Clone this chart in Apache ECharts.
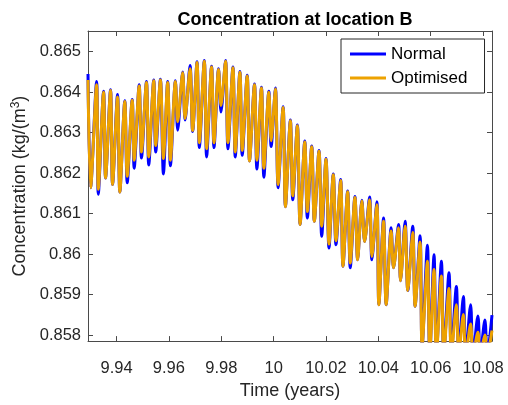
<!DOCTYPE html>
<html>
<head>
<meta charset="utf-8">
<script src="https://cdn.jsdelivr.net/npm/echarts@6/dist/echarts.min.js"></script>
<style>html,body{margin:0;padding:0;background:#fff}#c{width:508px;height:405px}</style>
</head>
<body>
<div id="c"></div>
<script>
// Times (years) of each daily maximum and minimum
const peakTime = [9.9291, 9.93238, 9.93505, 9.93771, 9.94038, 9.94316, 9.94598, 9.94865, 9.95143, 9.95421,
  9.95676, 9.95954, 9.96248, 9.96526, 9.96808, 9.97074, 9.97352, 9.9763, 9.97897, 9.98164,
  9.98446, 9.98712, 9.9899, 9.99269, 9.99535, 9.99817, 10.00069, 10.00362, 10.0064, 10.00907,
  10.01189, 10.01455, 10.01733, 10.02, 10.02278, 10.0256, 10.02827, 10.03105, 10.0337, 10.03665,
  10.03943, 10.04198, 10.04488, 10.0477, 10.05021, 10.05314, 10.05592, 10.05874, 10.06126, 10.06408,
  10.06697, 10.06979, 10.07246, 10.07524, 10.07802, 10.08069, 10.0834];
const troughTime = [9.9301, 9.93303, 9.93581, 9.93848, 9.94126, 9.94408, 9.94674, 9.94952, 9.9523, 9.95497,
  9.9579, 9.96057, 9.96335, 9.96617, 9.96907, 9.97162, 9.9744, 9.97722, 9.97989, 9.98255,
  9.98533, 9.988, 9.99078, 9.9936, 9.99627, 9.99905, 10.00171, 10.0045, 10.00731, 10.0101,
  10.01288, 10.01554, 10.01836, 10.02114, 10.02381, 10.02648, 10.02926, 10.03208, 10.03474, 10.03752,
  10.04019, 10.04297, 10.04579, 10.04846, 10.05124, 10.05402, 10.05669, 10.05962, 10.06214, 10.06495,
  10.06785, 10.07067, 10.07333, 10.07611, 10.07889, 10.08156];

// Normal run: concentration (kg/m^3) at maxima and minima
const normalPeak = [0.86445, 0.86426, 0.86402, 0.86406, 0.86394, 0.86379, 0.86382, 0.86418, 0.86426, 0.8643,
  0.86432, 0.86426, 0.86428, 0.8645, 0.86466, 0.86475, 0.86478, 0.86464, 0.86458, 0.86478,
  0.86462, 0.86451, 0.86442, 0.8642, 0.86412, 0.86402, 0.8641, 0.86364, 0.86331, 0.86319,
  0.86279, 0.86267, 0.86256, 0.86236, 0.86198, 0.86184, 0.86156, 0.86142, 0.86133, 0.86141,
  0.86129, 0.86089, 0.86065, 0.86073, 0.86081, 0.86069, 0.86045, 0.86022, 0.85998, 0.85982,
  0.85954, 0.8592, 0.85895, 0.85875, 0.85847, 0.85837, 0.85849];
const normalTrough = [0.86164, 0.86148, 0.86188, 0.86172, 0.86153, 0.86176, 0.86212, 0.86237, 0.8622, 0.86252,
  0.86198, 0.86218, 0.86306, 0.86331, 0.86303, 0.86263, 0.8624, 0.86263, 0.86351, 0.8626,
  0.8624, 0.86244, 0.8623, 0.8621, 0.8619, 0.86266, 0.86164, 0.86117, 0.86134, 0.86073,
  0.86089, 0.86081, 0.86044, 0.86015, 0.86023, 0.8597, 0.85966, 0.85986, 0.86031, 0.85986,
  0.85875, 0.85875, 0.85966, 0.85934, 0.8591, 0.85871, 0.8577, 0.8575, 0.8575, 0.8575,
  0.8575, 0.8575, 0.8575, 0.8575, 0.8575, 0.8575];

// Optimised run
const optPeak = [0.8643, 0.86418, 0.864, 0.86404, 0.86388, 0.86377, 0.8638, 0.86415, 0.86424, 0.86428,
  0.8643, 0.86424, 0.86426, 0.86448, 0.86458, 0.86473, 0.86476, 0.86462, 0.86456, 0.86476,
  0.8646, 0.86449, 0.8644, 0.86418, 0.8641, 0.864, 0.86408, 0.86362, 0.86329, 0.86317,
  0.86277, 0.86265, 0.86254, 0.86234, 0.86196, 0.86182, 0.86154, 0.8614, 0.86131, 0.86134,
  0.86122, 0.86081, 0.86057, 0.86065, 0.86069, 0.86053, 0.8603, 0.85982, 0.85962, 0.85946,
  0.85915, 0.85875, 0.85851, 0.85827, 0.85807, 0.858, 0.85811];
const optTrough = [0.86164, 0.8616, 0.86188, 0.86172, 0.86153, 0.86192, 0.86232, 0.86252, 0.8624, 0.86268,
  0.86236, 0.86232, 0.86327, 0.86335, 0.86305, 0.86275, 0.8626, 0.86275, 0.86367, 0.86275,
  0.86252, 0.86256, 0.8623, 0.86232, 0.86212, 0.8628, 0.86172, 0.86117, 0.86144, 0.86073,
  0.86105, 0.86081, 0.86069, 0.86025, 0.86033, 0.8597, 0.85978, 0.85986, 0.86031, 0.85994,
  0.85875, 0.85875, 0.85966, 0.85934, 0.8591, 0.85871, 0.8577, 0.8575, 0.8575, 0.8575,
  0.8575, 0.8575, 0.8575, 0.8575, 0.8575, 0.8575];

const xTicks = [9.94, 9.96, 9.98, 10.00, 10.02, 10.04, 10.06, 10.08];
const yTicks = [0.858, 0.859, 0.860, 0.861, 0.862, 0.863, 0.864, 0.865];
const xRange = [9.9291, 10.0834];
const yRange = [0.85785, 0.86551];

function build(peaks, troughs) {
  const out = [];
  for (let i = 0; i < peakTime.length; i++) {
    out.push([peakTime[i], peaks[i]]);
    if (i < troughTime.length) out.push([troughTime[i], troughs[i]]);
  }
  return out;
}

const TXT = '#262626';
const AX = '#4a4a4a';
const FONT = 'Liberation Sans, Arial, sans-serif';
const chart = echarts.init(document.getElementById('c'), null, {renderer: 'canvas'});
const axisCommon = {
  axisLine: {show: true, onZero: false, lineStyle: {color: AX, width: 1}},
  splitLine: {show: false}
};
chart.setOption({
  animation: false,
  backgroundColor: '#fff',
  textStyle: {fontFamily: FONT},
  title: {
    text: 'Concentration at location B',
    left: 290, top: 6, textAlign: 'center',
    textStyle: {fontSize: 18, fontWeight: 'bold', color: '#000', fontFamily: FONT}
  },
  legend: {
    data: ['Normal', 'Optimised'],
    orient: 'vertical',
    left: 341, top: 39,
    padding: [5, 17, 5, 9],
    itemGap: 4,
    icon: 'rect',
    itemWidth: 36, itemHeight: 3,
    backgroundColor: '#fff',
    borderColor: TXT, borderWidth: 1,
    textStyle: {fontSize: 17, color: '#000', fontFamily: FONT, lineHeight: 20}
  },
  grid: {left: 88, right: 16, top: 31, bottom: 52, containLabel: false},
  xAxis: [
    Object.assign({
      type: 'value', min: xRange[0], max: xRange[1], position: 'bottom',
      axisTick: {show: true, inside: true, length: 5, customValues: xTicks, lineStyle: {color: AX}},
      axisLabel: {show: true, customValues: xTicks, margin: 19, fontSize: 16.5, color: TXT, fontFamily: FONT,
        formatter: v => String(+(+v).toFixed(2))},
      name: 'Time (years)', nameLocation: 'middle', nameGap: 37,
      nameTextStyle: {fontSize: 18, color: TXT, fontFamily: FONT}
    }, axisCommon),
    Object.assign({
      type: 'value', min: xRange[0], max: xRange[1], position: 'top',
      axisTick: {show: true, inside: true, length: 5, customValues: xTicks, lineStyle: {color: AX}},
      axisLabel: {show: false}
    }, axisCommon)
  ],
  yAxis: [
    Object.assign({
      type: 'value', min: yRange[0], max: yRange[1], position: 'left',
      axisTick: {show: true, inside: true, length: 5, customValues: yTicks, lineStyle: {color: AX}},
      axisLabel: {show: true, customValues: yTicks, margin: 7, fontSize: 16.5, color: TXT, fontFamily: FONT,
        formatter: v => String(+(+v).toFixed(3))},
      name: 'Concentration (kg/(m{sup|3})', nameLocation: 'middle', nameGap: 49,
      nameTextStyle: {fontSize: 18, color: TXT, fontFamily: FONT,
        rich: {sup: {fontSize: 12, verticalAlign: 'top', color: TXT, fontFamily: FONT, padding: [0, 0, 8, 0]}}}
    }, axisCommon),
    Object.assign({
      type: 'value', min: yRange[0], max: yRange[1], position: 'right',
      axisTick: {show: true, inside: true, length: 5, customValues: yTicks, lineStyle: {color: AX}},
      axisLabel: {show: false}
    }, axisCommon)
  ],
  series: [
    {name: 'Normal', type: 'line', xAxisIndex: 0, yAxisIndex: 0, data: build(normalPeak, normalTrough),
      symbol: 'none', smooth: 0.3, clip: true, color: '#0000FF', lineStyle: {width: 3, color: '#0000FF'}},
    {name: 'Optimised', type: 'line', xAxisIndex: 0, yAxisIndex: 0, data: build(optPeak, optTrough),
      symbol: 'none', smooth: 0.3, clip: true, color: '#EDA200', lineStyle: {width: 3, color: '#EDA200'}}
  ]
});
</script>
</body>
</html>
